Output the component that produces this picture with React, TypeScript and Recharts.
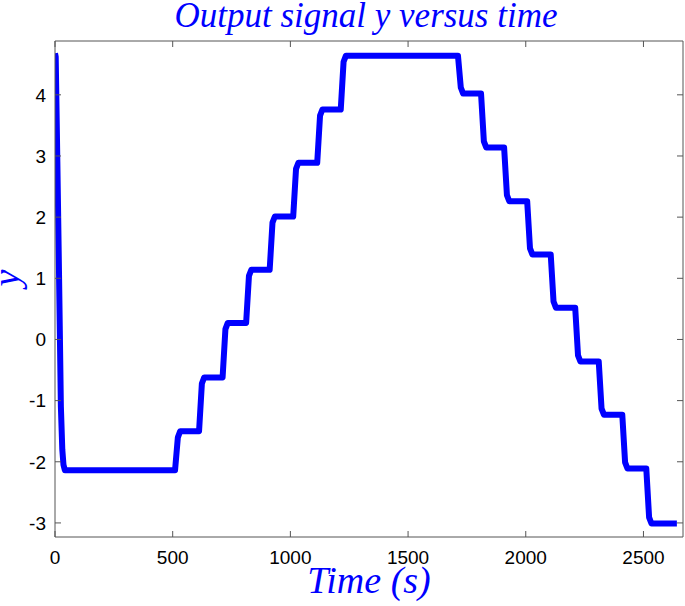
import React from "react";
import { LineChart, Line, XAxis, YAxis } from "recharts";

const timeS = [
  0, 3, 10, 17, 25, 31, 36, 42,
  510, 522, 532,
  612, 624, 634,
  712, 724, 734,
  812, 824, 834,
  912, 924, 934,
  1012, 1024, 1034,
  1114, 1126, 1136,
  1214, 1226, 1236,
  1712, 1724, 1734,
  1810, 1822, 1832,
  1908, 1920, 1930,
  2006, 2018, 2028,
  2106, 2118, 2128,
  2210, 2222, 2232,
  2310, 2322, 2332,
  2410, 2422, 2432,
  2512, 2524, 2534,
  2642,
];

const outputY = [
  4.68, 4.62, 2.9, 1.1, -1.1, -1.8, -2.05, -2.14,
  -2.14, -1.6, -1.5,
  -1.5, -0.72, -0.62,
  -0.62, 0.17, 0.27,
  0.27, 1.04, 1.14,
  1.14, 1.91, 2.01,
  2.01, 2.79, 2.89,
  2.89, 3.66, 3.76,
  3.76, 4.54, 4.64,
  4.64, 4.12, 4.02,
  4.02, 3.24, 3.14,
  3.14, 2.36, 2.26,
  2.26, 1.49, 1.39,
  1.39, 0.62, 0.52,
  0.52, -0.26, -0.36,
  -0.36, -1.13, -1.23,
  -1.23, -2.01, -2.11,
  -2.11, -2.91, -3.01,
  -3.01,
];

const xTicks = [0, 500, 1000, 1500, 2000, 2500];
const yTicks = [-3, -2, -1, 0, 1, 2, 3, 4];
const xDomain = [0, 2668];
const yDomain = [-3.23, 4.88];

const titleText = "Output signal y versus time";
const xLabelText = "Time (s)";
const yLabelText = "y";

const data = timeS.map((t, i) => ({ t, y: outputY[i] }));

const AXIS = "#555555";
const BLUE = "#0000ff";
const TICK_FONT = "'Liberation Sans', Arial, sans-serif";
const SERIF = "'Liberation Serif', 'Times New Roman', serif";

const LeftTick = (props: any) => {
  const { x, y, payload } = props;
  return (
    <g>
      <line x1={x} x2={x + 6} y1={y} y2={y} stroke={AXIS} />
      <text x={x - 9} y={y} dy="0.36em" textAnchor="end" fontSize={19} fontFamily={TICK_FONT} fill="#000">
        {String(payload.value)}
      </text>
    </g>
  );
};

const RightTick = (props: any) => {
  const { x, y } = props;
  return <line x1={x - 6} x2={x} y1={y} y2={y} stroke={AXIS} />;
};

const BottomTick = (props: any) => {
  const { x, y, payload } = props;
  return (
    <g>
      <line x1={x} x2={x} y1={y} y2={y - 6} stroke={AXIS} />
      <text x={x} y={y + 27} textAnchor="middle" fontSize={19} fontFamily={TICK_FONT} fill="#000">
        {String(payload.value)}
      </text>
    </g>
  );
};

const TopTick = (props: any) => {
  const { x, y } = props;
  return <line x1={x} x2={x} y1={y} y2={y + 6} stroke={AXIS} />;
};

export default function App() {
  return (
    <div style={{ position: "absolute", left: 0, top: 0, width: 685, height: 606, background: "#fff" }}>
      <LineChart width={685} height={606} data={data} margin={{ top: 40, right: 1, bottom: 0, left: 0 }}>
        <XAxis
          xAxisId="bottom"
          dataKey="t"
          type="number"
          domain={xDomain}
          ticks={xTicks}
          allowDataOverflow
          height={69}
          tickSize={0}
          tickMargin={0}
          tick={<BottomTick />}
          axisLine={{ stroke: AXIS }}
          tickLine={false}
        />
        <XAxis
          xAxisId="top"
          orientation="top"
          dataKey="t"
          type="number"
          domain={xDomain}
          ticks={xTicks}
          allowDataOverflow
          height={1}
          tickSize={0}
          tickMargin={0}
          tick={<TopTick />}
          axisLine={{ stroke: AXIS }}
          tickLine={false}
        />
        <YAxis
          yAxisId="left"
          type="number"
          domain={yDomain}
          ticks={yTicks}
          allowDataOverflow
          width={55}
          tickSize={0}
          tickMargin={0}
          tick={<LeftTick />}
          axisLine={{ stroke: AXIS }}
          tickLine={false}
        />
        <YAxis
          yAxisId="right"
          orientation="right"
          type="number"
          domain={yDomain}
          ticks={yTicks}
          allowDataOverflow
          width={1}
          tickSize={0}
          tickMargin={0}
          tick={<RightTick />}
          axisLine={{ stroke: AXIS }}
          tickLine={false}
        />
        <Line
          xAxisId="bottom"
          yAxisId="left"
          dataKey="y"
          type="linear"
          stroke={BLUE}
          strokeWidth={6}
          strokeLinejoin="round"
          dot={false}
          isAnimationActive={false}
        />
        <Line
          xAxisId="top"
          yAxisId="right"
          dataKey="y"
          type="linear"
          stroke="none"
          strokeWidth={0}
          dot={false}
          activeDot={false}
          isAnimationActive={false}
        />
        <text x={366} y={27} textAnchor="middle" fontSize={35} fontStyle="italic" fontFamily={SERIF} fill={BLUE}>
          {titleText}
        </text>
        <text x={369} y={593} textAnchor="middle" fontSize={38} fontStyle="italic" fontFamily={SERIF} fill={BLUE}>
          {xLabelText}
        </text>
        <text
          x={19}
          y={278}
          textAnchor="middle"
          fontSize={38}
          fontStyle="italic"
          fontFamily={SERIF}
          fill={BLUE}
          transform="rotate(-90 19 278)"
        >
          {yLabelText}
        </text>
      </LineChart>
    </div>
  );
}
